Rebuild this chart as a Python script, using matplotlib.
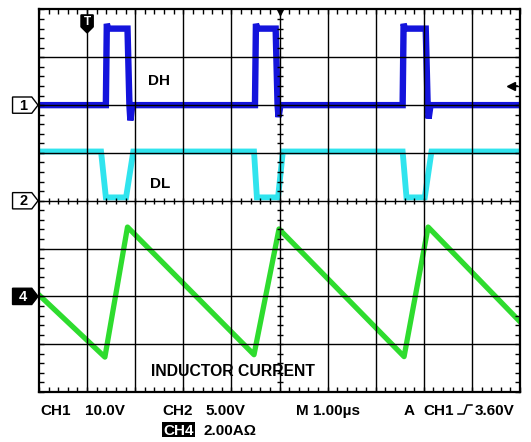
import numpy as np
import matplotlib
matplotlib.use("Agg")
import matplotlib.pyplot as plt
from matplotlib.patches import Polygon, Rectangle
from matplotlib.lines import Line2D

plt.rcParams["font.family"] = ["Liberation Sans", "DejaVu Sans"]
plt.rcParams["font.weight"] = "bold"

# screen is 10 x 8 divisions, 1 us/div horizontally
# CH1 (DH) gate drive, reference at 6 div
DH_T = [0, 1.39, 1.41, 1.44, 1.84, 1.88, 1.90, 1.94,
        4.49, 4.51, 4.54, 4.92, 4.96, 4.98, 5.02,
        7.56, 7.58, 7.61, 8.04, 8.08, 8.10, 8.14, 10]
DH_V = [6.0, 6.0, 7.7, 7.6, 7.6, 6.0, 5.68, 6.0,
        6.0, 7.7, 7.6, 7.6, 6.0, 5.75, 6.0,
        6.0, 7.7, 7.6, 7.6, 6.0, 5.72, 6.0, 6.0]

# CH2 (DL) gate drive, reference at 4 div
DL_T = [0, 1.29, 1.39, 1.81, 1.96, 4.47, 4.53, 4.97, 5.07, 7.56, 7.64, 8.02, 8.16, 10]
DL_V = [5.03, 5.03, 4.07, 4.07, 5.03, 5.03, 4.07, 4.07, 5.03, 5.03, 4.07, 4.07, 5.03, 5.03]

# CH4 inductor current, reference at 2 div
IL_T = [0, 1.37, 1.84, 4.47, 4.99, 7.59, 8.09, 10]
IL_V = [2.03, 0.73, 3.45, 0.78, 3.41, 0.74, 3.45, 1.47]

CH_LABELS = ["1", "2", "4"]
CH_LEVELS = [6.0, 4.0, 2.0]
TRIG_POS = 1.0
TRIG_LEVEL = 6.4

W, H = 531, 442
fig = plt.figure(figsize=(W / 100, H / 100), dpi=100)
fig.patch.set_facecolor("white")
ax = fig.add_axes([39 / W, 1 - 392 / H, 481 / W, 382.5 / H])
ax.set_xlim(0, 10)
ax.set_ylim(0, 8)

# traces under the graticule
ax.plot(DH_T, DH_V, color="#1414dc", lw=4.6, solid_joinstyle="miter", zorder=1)
ax.plot(DL_T, DL_V, color="#30e4ee", lw=4.2, solid_joinstyle="miter", zorder=1)
ax.plot(IL_T, IL_V, color="#2edc2e", lw=3.8, solid_joinstyle="round", zorder=1)

# graticule
for gx in range(1, 10):
    ax.axvline(gx, color="black", lw=1.0, zorder=3)
for gy in range(1, 8):
    ax.axhline(gy, color="black", lw=1.0, zorder=3)
for s in ax.spines.values():
    s.set_linewidth(1.6)
    s.set_zorder(4)

ax.set_xticks(np.arange(0, 10.01, 0.2), minor=True)
ax.set_yticks(np.arange(0, 8.01, 0.2), minor=True)
ax.set_xticks([])
ax.set_yticks([])
ax.tick_params(which="minor", direction="in", length=3.6, width=1.0,
               top=True, bottom=True, left=True, right=True,
               labelbottom=False, labelleft=False)

# small ticks across the center lines
cx = np.arange(0.2, 10, 0.2)
cy = np.arange(0.2, 8, 0.2)
ax.plot(cx, np.full_like(cx, 4.0), ls="none", marker="|", ms=4.5, mew=1.0, color="black", zorder=3)
ax.plot(np.full_like(cy, 5.0), cy, ls="none", marker="_", ms=4.5, mew=1.0, color="black", zorder=3)

# channel ground markers on the left
for lab, lev in zip(CH_LABELS, CH_LEVELS):
    dark = lab == "4"
    pts = [(-0.55, lev + 0.17), (-0.15, lev + 0.17), (-0.02, lev),
           (-0.15, lev - 0.17), (-0.55, lev - 0.17)]
    ax.add_patch(Polygon(pts, closed=True, facecolor="black" if dark else "white",
                         edgecolor="black", lw=1.0, clip_on=False, zorder=5))
    ax.text(-0.33, lev - 0.01, lab, ha="center", va="center", fontsize=10.5,
            color="white" if dark else "black", clip_on=False, zorder=6)

# trigger position marker
tp = [(TRIG_POS - 0.12, 7.88), (TRIG_POS + 0.12, 7.88), (TRIG_POS + 0.12, 7.64),
      (TRIG_POS, 7.52), (TRIG_POS - 0.12, 7.64)]
ax.add_patch(Polygon(tp, closed=True, facecolor="black", edgecolor="black",
                     lw=1.5, joinstyle="round", zorder=5))
ax.text(TRIG_POS, 7.73, "T", ha="center", va="center", fontsize=8.5, color="white", zorder=6)

# center marker at top and trigger level arrow on the right
ax.plot([5.0], [7.95], marker="v", ms=4.5, color="black", clip_on=False, zorder=6)
ax.plot([9.82], [TRIG_LEVEL], marker="<", ms=5.5, color="black", zorder=6)
ax.plot([9.82, 9.93], [TRIG_LEVEL, TRIG_LEVEL], color="black", lw=1.2, zorder=6)

# trace labels
ax.text(2.49, 6.5, "DH", ha="center", va="center", fontsize=11, zorder=6)
ax.text(2.52, 4.35, "DL", ha="center", va="center", fontsize=11, zorder=6)
ax.text(4.03, 0.42, "INDUCTOR CURRENT", ha="center", va="center", fontsize=11.3, zorder=6)


def fx(px):
    return px / W


def fy(py):
    return 1 - py / H


# readout below the screen
FS = 11
fig.text(fx(40), fy(415), "CH1", fontsize=FS, va="baseline")
fig.text(fx(85), fy(415), "10.0V", fontsize=FS, va="baseline")
fig.text(fx(162), fy(415), "CH2", fontsize=FS, va="baseline")
fig.text(fx(205), fy(415), "5.00V", fontsize=FS, va="baseline")
fig.text(fx(296), fy(415), "M 1.00\u00b5s", fontsize=FS, va="baseline")
fig.text(fx(404), fy(415), "A", fontsize=FS, va="baseline")
fig.text(fx(423), fy(415), "CH1", fontsize=FS, va="baseline")
fig.text(fx(475), fy(415), "3.60V", fontsize=FS, va="baseline")
fig.add_artist(Line2D([fx(458), fx(464), fx(467), fx(472)],
                      [fy(414), fy(414), fy(405), fy(405)],
                      transform=fig.transFigure, color="black", lw=1.1))

fig.add_artist(Rectangle((fx(162), fy(437)), (195 - 162) / W, 15 / H,
                         transform=fig.transFigure, facecolor="black", edgecolor="none"))
fig.text(fx(178.5), fy(435), "CH4", fontsize=FS, va="baseline", ha="center", color="white")
fig.text(fx(203), fy(435), "2.00A\u03a9", fontsize=FS, va="baseline")

fig.savefig("out.png", dpi=100)
